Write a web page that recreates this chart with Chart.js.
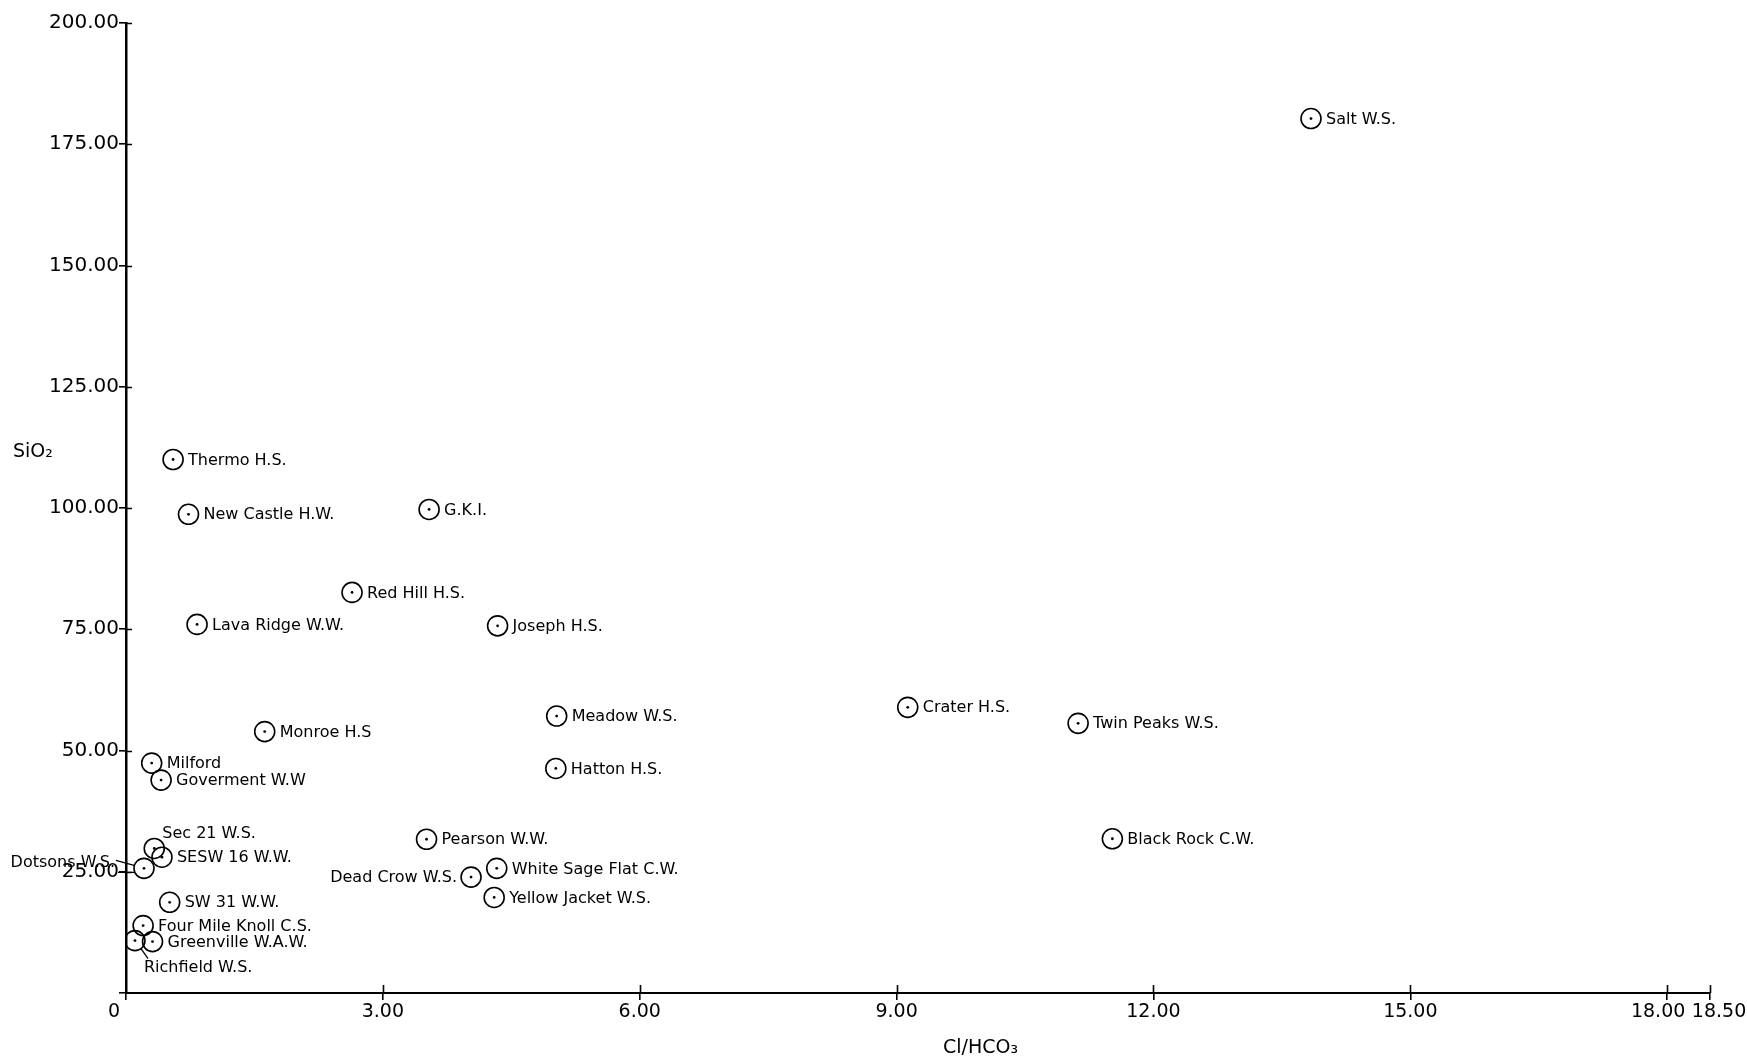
<!DOCTYPE html>
<html>
<head>
<meta charset="utf-8">
<script src="https://cdn.jsdelivr.net/npm/chart.js@4/dist/chart.umd.min.js"></script>
<style>
  html, body { margin: 0; padding: 0; background: #fff; }
  canvas { display: block; }
</style>
</head>
<body>
<canvas id="c" width="1747" height="1060"></canvas>
<script>
// ---- data ----
const siteNames = [
  'Salt W.S.', 'Thermo H.S.', 'New Castle H.W.', 'G.K.I.', 'Red Hill H.S.',
  'Lava Ridge W.W.', 'Joseph H.S.', 'Meadow W.S.', 'Crater H.S.', 'Twin Peaks W.S.',
  'Monroe H.S', 'Milford', 'Hatton H.S.', 'Goverment W.W', 'Sec 21 W.S.',
  'SESW 16 W.W.', 'Dotsons W.S.', 'Pearson W.W.', 'Black Rock C.W.', 'White Sage Flat C.W.',
  'Dead Crow W.S.', 'Yellow Jacket W.S.', 'SW 31 W.W.', 'Four Mile Knoll C.S.', 'Greenville W.A.W.',
  'Richfield W.S.'
];
const clHco3 = [
  13.84, 0.55, 0.73, 3.54, 2.64,
  0.83, 4.34, 5.03, 9.13, 11.12,
  1.62, 0.30, 5.02, 0.41, 0.33,
  0.42, 0.21, 3.51, 11.52, 4.33,
  4.03, 4.30, 0.51, 0.20, 0.31,
  0.105
];
const sio2 = [
  180.3, 110.0, 98.7, 99.7, 82.6,
  76.0, 75.7, 57.1, 58.9, 55.6,
  53.9, 47.4, 46.3, 43.9, 29.8,
  28.0, 25.7, 31.7, 31.8, 25.7,
  23.9, 19.7, 18.7, 13.9, 10.6,
  10.8
];
// where each site's name sits relative to its circle
const labelPlacement = [
  'right', 'right', 'right', 'right', 'right',
  'right', 'right', 'right', 'right', 'right',
  'right', 'right', 'right', 'right', 'aboveRight',
  'right', 'leftLeader', 'right', 'right', 'right',
  'left', 'right', 'right', 'right', 'right',
  'belowLeader'
];
const xTicks = [0, 3, 6, 9, 12, 15, 18, 18.5];
const xTickLabels = ['0', '3.00', '6.00', '9.00', '12.00', '15.00', '18.00', '18.50'];
const yTicks = [0, 25, 50, 75, 100, 125, 150, 175, 200];
const yTickLabels = ['', '25.00', '50.00', '75.00', '100.00', '125.00', '150.00', '175.00', '200.00'];
const xTitle = 'Cl/HCO\u2083';
const yTitle = 'SiO\u2082';

const points = clHco3.map((x, i) => ({ x: x, y: sio2[i] }));
const FONT = '"DejaVu Sans", sans-serif';
const NB = '\u00a0';

const labelPlugin = {
  id: 'siteLabels',
  afterDatasetsDraw(chart) {
    const ctx = chart.ctx;
    const meta = chart.getDatasetMeta(0);
    ctx.save();
    ctx.font = '16px ' + FONT;
    ctx.fillStyle = '#000';
    ctx.strokeStyle = '#000';
    ctx.lineWidth = 1.3;
    ctx.textBaseline = 'middle';
    meta.data.forEach((el, i) => {
      const cx = el.x, cy = el.y;
      const name = siteNames[i];
      const p = labelPlacement[i];
      if (p === 'right') {
        ctx.textAlign = 'left';
        ctx.fillText(name, cx + 15, cy + 1);
      } else if (p === 'left') {
        ctx.textAlign = 'right';
        ctx.fillText(name, cx - 14, cy + 1);
      } else if (p === 'aboveRight') {
        ctx.textAlign = 'left';
        ctx.fillText(name, cx + 8, cy - 15);
      } else if (p === 'leftLeader') {
        ctx.textAlign = 'right';
        ctx.fillText(name, cx - 29, cy - 6);
        ctx.beginPath();
        ctx.moveTo(cx - 28, cy - 8);
        ctx.lineTo(cx - 10, cy - 3);
        ctx.moveTo(cx - 26, cy + 4);
        ctx.lineTo(cx - 9, cy + 4);
        ctx.stroke();
      } else if (p === 'belowLeader') {
        ctx.textAlign = 'left';
        ctx.fillText(name, cx + 9, cy + 27);
        ctx.beginPath();
        ctx.moveTo(cx + 6, cy + 8);
        ctx.lineTo(cx + 13, cy + 18);
        ctx.stroke();
      }
    });
    // axis titles
    const xs = chart.scales.x, ys = chart.scales.y;
    ctx.font = '19px ' + FONT;
    ctx.textAlign = 'center';
    ctx.fillText(xTitle, xs.getPixelForValue(9.98), 1048);
    ctx.textAlign = 'left';
    ctx.fillText(yTitle, 13, ys.getPixelForValue(111.5));
    ctx.restore();
  }
};

// tick marks that cross the axis lines (inner half)
const crossTicks = {
  id: 'crossTicks',
  afterDraw(chart) {
    const ctx = chart.ctx;
    const xs = chart.scales.x, ys = chart.scales.y;
    const a = chart.chartArea;
    ctx.save();
    ctx.strokeStyle = '#000';
    ctx.lineWidth = 1.6;
    ctx.beginPath();
    xTicks.forEach(v => {
      if (v === 0) return;
      const px = Math.round(xs.getPixelForValue(v)) + 0.5;
      ctx.moveTo(px, a.bottom);
      ctx.lineTo(px, a.bottom - 8);
    });
    yTicks.forEach(v => {
      if (v === 0) return;
      const py = Math.round(ys.getPixelForValue(v)) + 0.5;
      ctx.moveTo(a.left, py);
      ctx.lineTo(a.left + 6, py);
    });
    ctx.stroke();
    ctx.restore();
  }
};

new Chart(document.getElementById('c'), {
  type: 'scatter',
  data: {
    datasets: [
      {
        data: points,
        pointStyle: 'circle',
        pointRadius: 10,
        pointHoverRadius: 10,
        pointBorderWidth: 1.6,
        pointBorderColor: '#000',
        pointBackgroundColor: 'rgba(0,0,0,0)',
        showLine: false
      },
      {
        data: points,
        pointStyle: 'circle',
        pointRadius: 1.4,
        pointHoverRadius: 1.4,
        pointBorderWidth: 0,
        pointBackgroundColor: '#000',
        showLine: false
      }
    ]
  },
  options: {
    responsive: false,
    animation: false,
    events: [],
    layout: { padding: { top: 23, right: 37, bottom: 0, left: 0 } },
    plugins: { legend: { display: false }, tooltip: { enabled: false } },
    scales: {
      x: {
        type: 'linear',
        min: 0,
        max: 18.5,
        afterBuildTicks(scale) { scale.ticks = xTicks.map(v => ({ value: v })); },
        afterFit(scale) { scale.height = 67; scale.paddingLeft = 0; scale.paddingRight = 0; },
        border: { display: true, color: '#000', width: 2 },
        grid: { display: true, drawOnChartArea: false, drawTicks: true, tickLength: 7, color: '#000', lineWidth: 1.6 },
        ticks: {
          autoSkip: false,
          maxRotation: 0,
          padding: 1,
          color: '#000',
          font: { family: FONT, size: 19 },
          callback(value, index) {
            const t = xTickLabels[index];
            if (index === 0) return t + NB + NB + NB + NB;
            if (index === xTickLabels.length - 2) return t + NB + NB + NB;
            if (index === xTickLabels.length - 1) return NB + NB + NB + t;
            return t;
          }
        }
      },
      y: {
        type: 'linear',
        min: 0,
        max: 200,
        afterBuildTicks(scale) { scale.ticks = yTicks.map(v => ({ value: v })); },
        afterFit(scale) { scale.width = 126; scale.paddingTop = 0; scale.paddingBottom = 0; },
        border: { display: true, color: '#000', width: 2.5 },
        grid: { display: true, drawOnChartArea: false, drawTicks: true, tickLength: 7, color: '#000', lineWidth: 1.6 },
        ticks: {
          autoSkip: false,
          padding: 0,
          color: '#000',
          font: { family: FONT, size: 20 },
          callback(value, index) { return yTickLabels[index]; }
        }
      }
    }
  },
  plugins: [labelPlugin, crossTicks]
});
</script>
</body>
</html>
